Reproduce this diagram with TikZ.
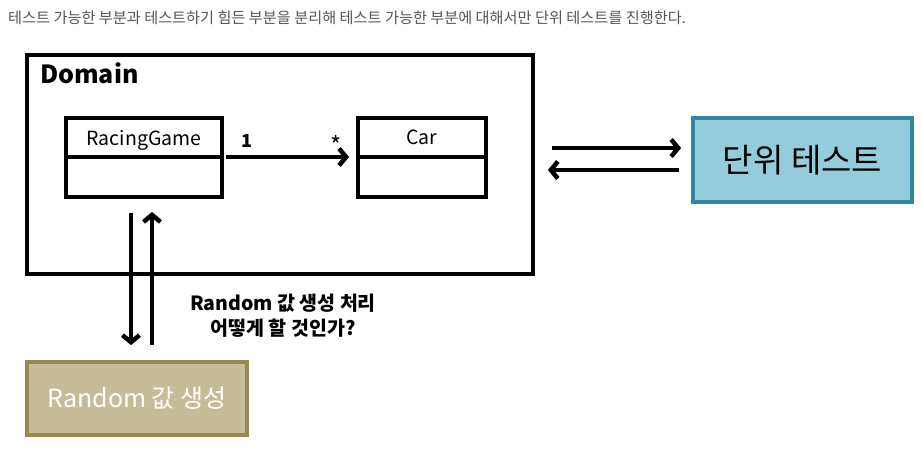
\documentclass[tikz,border=0pt]{standalone}
\usepackage{fontspec}
\setmainfont{Noto Sans CJK KR}
\usetikzlibrary{arrows.meta,positioning}
\definecolor{hdrgray}{RGB}{85,85,85}
\definecolor{rndfill}{RGB}{196,189,151}
\definecolor{rnddraw}{RGB}{148,138,84}
\definecolor{utfill}{RGB}{147,205,221}
\definecolor{utdraw}{RGB}{49,133,156}
\begin{document}
\begin{tikzpicture}[x=1pt, y=-1pt,
  cls/.style={draw, line width=3.8pt, minimum width=156pt, inner sep=0pt, outer sep=0pt, font=\fontsize{19.5}{19.5}\selectfont},
  arr/.style={line width=4.5pt, -{Straight Barb[length=7pt,width=17pt]}},
  filledbox/.style={line width=3.8pt, inner sep=0pt}]
\useasboundingbox (0,0) rectangle (922,448);
\node[anchor=base west, text=hdrgray, inner sep=0pt, font=\fontsize{15.2}{15.2}\selectfont] (hdr) at (8,23) {테스트 가능한 부분과 테스트하기 힘든 부분을 분리해 테스트 가능한 부분에 대해서만 단위 테스트를 진행한다.};
\node[draw, line width=3.8pt, minimum width=506pt, minimum height=219pt] (dom) at (280,164.5) {};
\node[anchor=north west, font=\bfseries\fontsize{25}{25}\selectfont, inner sep=0pt] (domlbl) at (40,63) {Domain};
\node[cls, minimum height=39pt, text depth=-2pt] (rg) at (144,137.5) {RacingGame};
\node[cls, minimum height=40pt, below=0pt of rg] (rgb) {};
\node[cls, minimum width=128pt, minimum height=39pt, text depth=-2pt] (car) at (422,137.5) {Car};
\node[cls, minimum width=128pt, minimum height=40pt, below=0pt of car] (carb) {};
\draw[arr, shorten <=4pt, shorten >=9pt] (rg.south east) -- (car.south west)
  node[pos=0.18, above=4pt, font=\bfseries\fontsize{18}{18}\selectfont] (one) {1}
  node[pos=0.84, above=-3pt, font=\fontsize{24}{24}\selectfont] (many) {*};
\node[filledbox, draw=utdraw, fill=utfill, minimum width=219pt, minimum height=84pt, font=\fontsize{33}{33}\selectfont] (ut) at (802.5,160) {단위 테스트};
\node[filledbox, draw=rnddraw, fill=rndfill, minimum width=220pt, minimum height=73pt, text=white, font=\fontsize{25}{25}\selectfont] (rnd) at (137,398.5) {Random 값 생성};
\draw[arr, shorten <=17pt, shorten >=10pt] ([yshift=12pt]dom.east |- ut.west) -- ([yshift=12pt]ut.west);
\draw[arr, shorten <=12pt, shorten >=13pt] ([yshift=-10pt]ut.west) -- ([yshift=-10pt]dom.east |- ut.west);
\draw[arr, shorten <=16pt, shorten >=15pt] ([xshift=-13pt]rgb.south) -- ([xshift=-13pt]rgb.south |- rnd.north);
\draw[arr, shorten <=15pt, shorten >=15pt] ([xshift=8pt]rgb.south |- rnd.north) -- ([xshift=8pt]rgb.south);
\node[align=center, font=\bfseries\fontsize{19.5}{25}\selectfont] (ask) at (283,316) {Random 값 생성 처리\\어떻게 할 것인가?};
\end{tikzpicture}
\end{document}
